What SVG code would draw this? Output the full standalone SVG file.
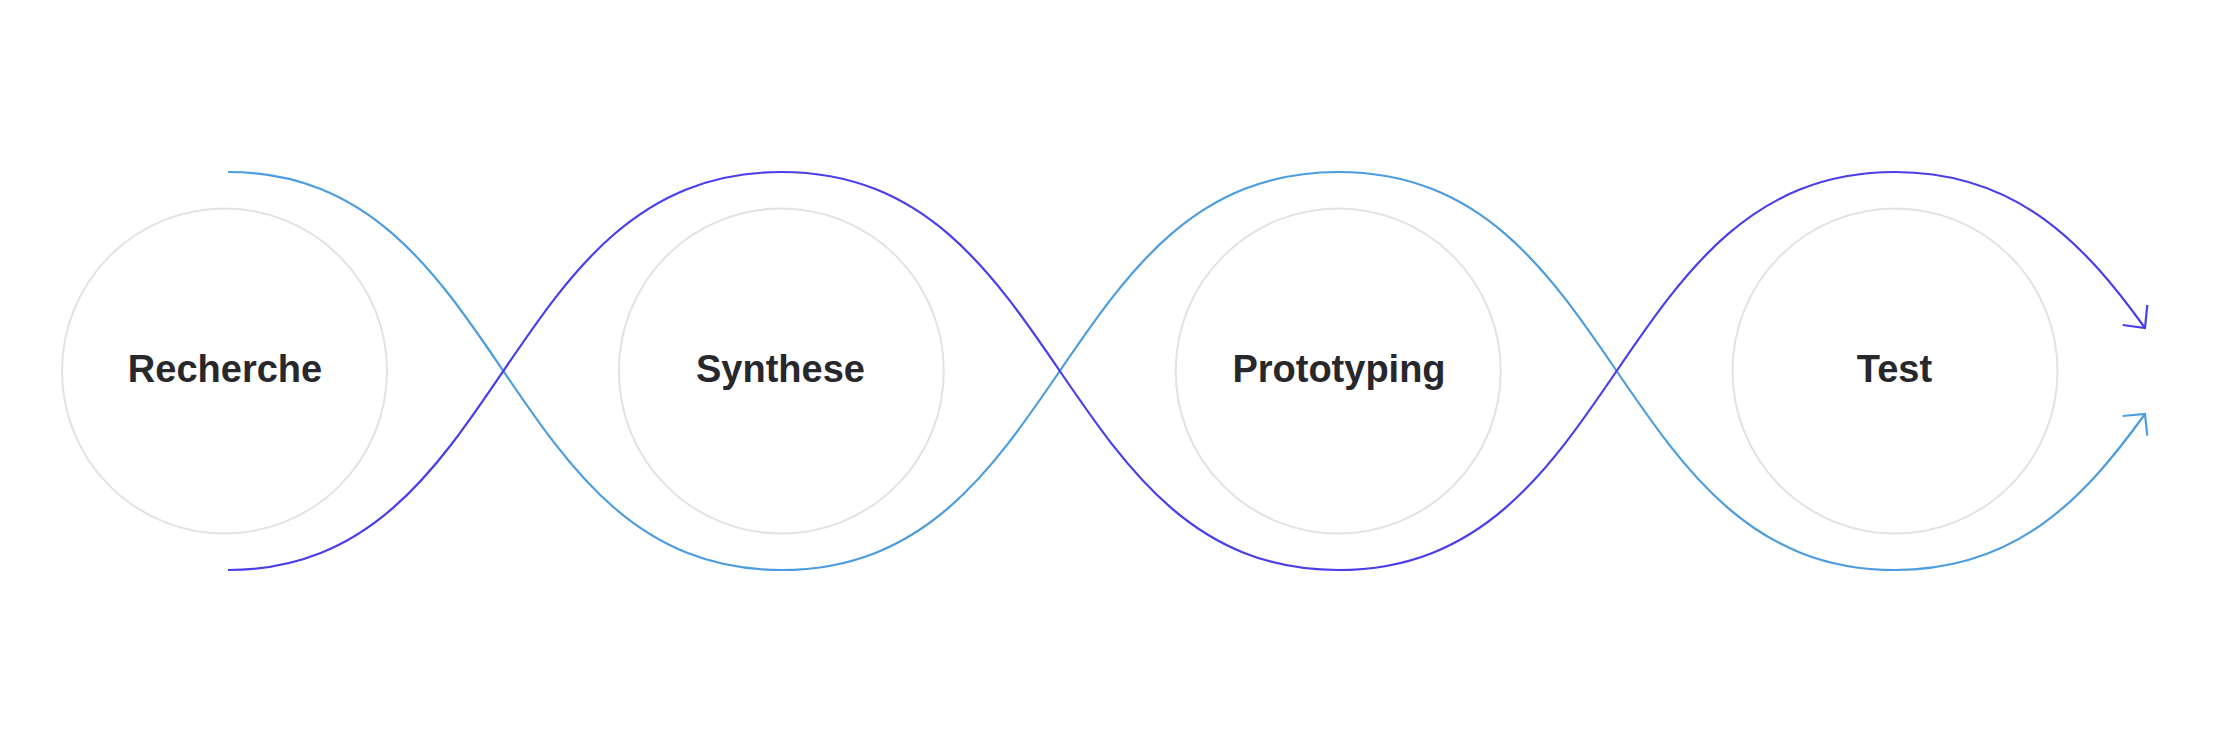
<svg xmlns="http://www.w3.org/2000/svg" width="2222" height="730" viewBox="0 0 2222 730">
<style>
.node circle{fill:none;stroke:#e2e2e2;stroke-width:2}
.node text{font-family:"Liberation Sans",Arial,sans-serif;font-weight:bold;font-size:38px;fill:#27272c;text-anchor:middle}
.conn{fill:none;stroke-width:2.2;stroke-linecap:butt;stroke-linejoin:miter}
.blue{stroke:#4b9ddf}
.purple{stroke:#4a3dec}
</style>
<rect width="2222" height="730" fill="#ffffff"/>
<g id="connectors">
<path class="conn blue" d="M228,172 C509.5,172 496.3,570 781.3,570 C1066.3,570 1053.3,172 1338.3,172 C1623.3,172 1610,570 1895,570 C2018,570 2085,497 2145,414 M2122.7,416 L2145,414 L2147.3,435.7"/>
<path class="conn purple" d="M228,570 C509.5,570 496.3,172 781.3,172 C1066.3,172 1053.3,570 1338.3,570 C1623.3,570 1610,172 1895,172 C2018,172 2085,245 2145,328 M2122.7,325 L2145,328 L2147.3,305"/>
</g>
<g id="node-recherche" class="node">
<circle cx="224.5" cy="371" r="162.5"/>
<text x="225" y="382">Recherche</text>
</g>
<g id="node-synthese" class="node">
<circle cx="781.3" cy="371" r="162.5"/>
<text x="780.5" y="382">Synthese</text>
</g>
<g id="node-prototyping" class="node">
<circle cx="1338.2" cy="371" r="162.5"/>
<text x="1339" y="382">Prototyping</text>
</g>
<g id="node-test" class="node">
<circle cx="1895" cy="371" r="162.5"/>
<text x="1894.5" y="382">Test</text>
</g>
</svg>
